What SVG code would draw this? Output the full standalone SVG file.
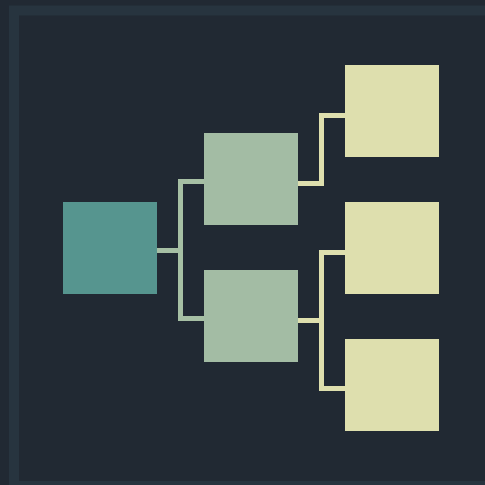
<svg xmlns="http://www.w3.org/2000/svg" width="485" height="485" viewBox="0 0 485 485">
<style>
.root{fill:#56958f}
.mid{fill:#a3bca4}
.leaf{fill:#dedfae}
.c1{fill:none;stroke:#a6bfa4;stroke-width:5}
.c2{fill:none;stroke:#dedfae;stroke-width:5}
</style>
<rect x="0" y="0" width="485" height="485" fill="#212933"/>
<rect x="14" y="10.5" width="480" height="475.5" fill="none" stroke="#27343f" stroke-width="10"/>
<g id="connectors">
<polyline class="c1" points="157,250.5 180.5,250.5"/>
<polyline class="c1" points="204,181.5 180.5,181.5 180.5,318.5 204,318.5"/>
<polyline class="c2" points="298,183.5 321.5,183.5 321.5,115.5 345,115.5"/>
<polyline class="c2" points="298,320.5 321.5,320.5"/>
<polyline class="c2" points="345,252.5 321.5,252.5 321.5,388.5 345,388.5"/>
</g>
<g id="root"><rect class="root" x="63" y="202" width="94" height="92"/></g>
<g id="mid1"><rect class="mid" x="204" y="133" width="94" height="92"/></g>
<g id="mid2"><rect class="mid" x="204" y="270" width="94" height="92"/></g>
<g id="leaf1"><rect class="leaf" x="345" y="65" width="94" height="92"/></g>
<g id="leaf2"><rect class="leaf" x="345" y="202" width="94" height="92"/></g>
<g id="leaf3"><rect class="leaf" x="345" y="339" width="94" height="92"/></g>
</svg>
